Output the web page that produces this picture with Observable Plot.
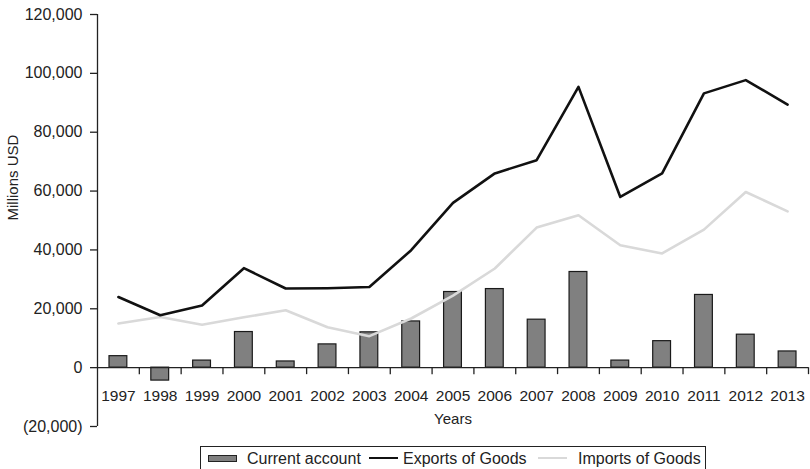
<!DOCTYPE html>
<html>
<head>
<meta charset="utf-8">
<script src="https://cdn.jsdelivr.net/npm/d3@7"></script>
<script src="https://cdn.jsdelivr.net/npm/@observablehq/plot@0.6"></script>
<style>
  body { margin: 0; background: #fff; font-family: "Liberation Sans", Arial, sans-serif; }
  #chart svg { display: block; }
  .legend {
    position: absolute; left: 200px; top: 446px; width: 506px; height: 28px;
    border: 1px solid #222; box-sizing: border-box;
    font-size: 16px; color: #222; white-space: nowrap;
  }
  .legend > span { position: absolute; }
  .legend .bar { left: 7px; top: 8px; width: 29px; height: 7px; background: #808080; border: 1px solid #222; box-sizing: border-box; }
  .legend .line { top: 10px; width: 29px; height: 0; border-top: 2.5px solid; }
  .legend .label { top: 3px; line-height: 17px; }
</style>
</head>
<body>
<div id="chart"></div>
<div class="legend">
  <span class="bar"></span><span class="label" style="left:46px">Current account</span>
  <span class="line" style="left:168px;border-color:#111"></span><span class="label" style="left:202px">Exports of Goods</span>
  <span class="line" style="left:337px;border-color:#d9d9d9"></span><span class="label" style="left:377px">Imports of Goods</span>
</div>
<script>
const years = [1997, 1998, 1999, 2000, 2001, 2002, 2003, 2004, 2005, 2006, 2007, 2008, 2009, 2010, 2011, 2012, 2013];
const currentAccount = [3900, -4400, 2400, 12100, 2100, 7900, 12000, 15700, 25700, 26700, 16300, 32500, 2400, 9000, 24700, 11200, 5500];
const exportsOfGoods = [24000, 17800, 21100, 33800, 26900, 27000, 27400, 39900, 56000, 66000, 70500, 95400, 58000, 66000, 93200, 97700, 89400];
const importsOfGoods = [15000, 17200, 14600, 17100, 19500, 13700, 10700, 16700, 24500, 33700, 47600, 51800, 41600, 38800, 46900, 59700, 53100];
const yTicks = [-20000, 0, 20000, 40000, 60000, 80000, 100000, 120000];

const rows = years.map((year, i) => ({
  year: String(year),
  current: currentAccount[i],
  exports: exportsOfGoods[i],
  imports: importsOfGoods[i]
}));

const fmt = d3.format(",");
const yFormat = d => d < 0 ? `(${fmt(-d)})` : fmt(d);
const halfStep = (810 - 97 - 2) / years.length / 2;

const chart = Plot.plot({
  width: 810,
  height: 440,
  marginLeft: 97,
  marginRight: 2,
  marginTop: 14,
  marginBottom: 14,
  style: { fontFamily: "'Liberation Sans', Arial, sans-serif", fontSize: "15px", color: "#222", background: "#fff" },
  x: { type: "band", domain: rows.map(d => d.year), padding: 0, round: false, axis: null },
  y: { domain: [-20000, 120000], axis: null },
  marks: [
    // y axis: spine, ticks and labels
    Plot.ruleX([rows[0].year], { y1: -20000, y2: 120000, dx: -halfStep, stroke: "#222", strokeWidth: 1.3 }),
    Plot.axisY({ ticks: yTicks, tickFormat: yFormat, tickSize: 7, tickPadding: 8, stroke: "#222", strokeWidth: 1.3, fontSize: 16, label: null }),
    Plot.text(["Millions USD"], { frameAnchor: "left", rotate: -90, dx: -84, fontSize: 15, fill: "#222" }),
    // current account bars
    Plot.barY(rows, { x: "year", y: "current", fill: "#808080", stroke: "#1a1a1a", strokeWidth: 1.2, insetLeft: 12, insetRight: 12 }),
    // zero baseline with category separators
    Plot.ruleY([0], { stroke: "#222", strokeWidth: 1.3 }),
    Plot.ruleX(rows, { x: "year", y1: 0, y2: 0, insetBottom: -7, dx: halfStep, stroke: "#222", strokeWidth: 1.3 }),
    Plot.text(rows, { x: "year", y: 0, text: "year", dy: 28, fontSize: 15.5, fill: "#222" }),
    Plot.text(["Years"], { frameAnchor: "bottom", dy: -3, fontSize: 15, fill: "#222" }),
    // goods trade lines
    Plot.lineY(rows, { x: "year", y: "imports", stroke: "#d9d9d9", strokeWidth: 2.6 }),
    Plot.lineY(rows, { x: "year", y: "exports", stroke: "#111", strokeWidth: 2.6 })
  ]
});
document.getElementById("chart").append(chart);
</script>
</body>
</html>
